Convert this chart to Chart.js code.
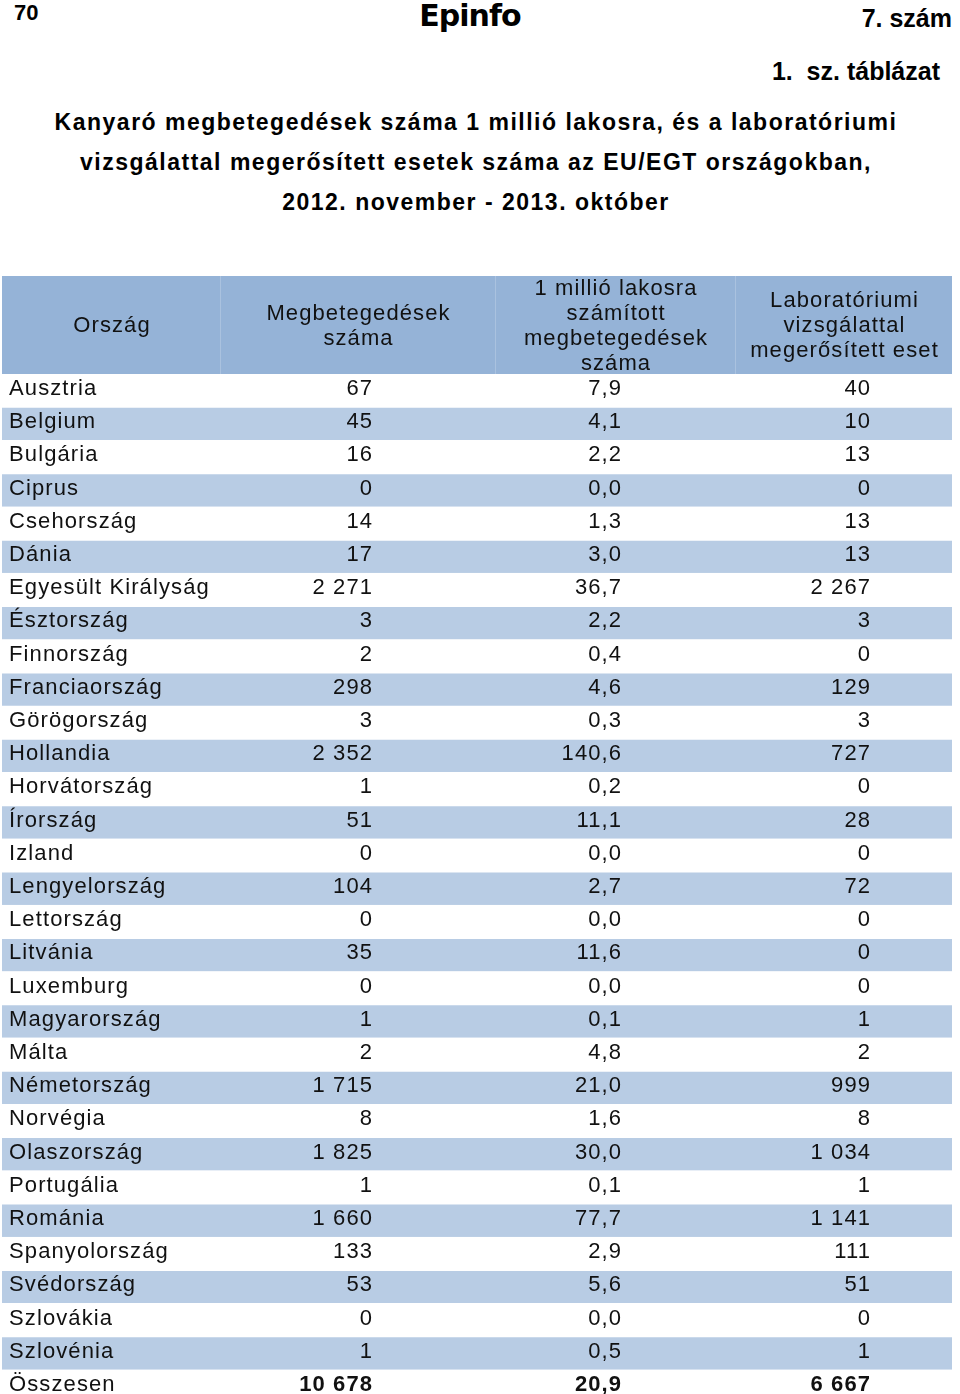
<!DOCTYPE html>
<html>
<head>
<meta charset="utf-8">
<script src="https://cdn.jsdelivr.net/npm/chart.js@4.4.1/dist/chart.umd.min.js"></script>
<style>
    html, body { margin: 0; padding: 0; background: #fff; overflow: hidden; }
    body { width: 960px; height: 1394px; position: relative; font-family: "Liberation Sans", Arial, sans-serif; color: #000; }
    .abs { position: absolute; white-space: nowrap; }
    #page-no { left: 14px; top: 0px; font-weight: bold; font-size: 22px; font-family: "Liberation Sans Narrow", "Liberation Sans", Arial, sans-serif; }
    #logo { left: 0; width: 940px; text-align: center; top: -2px; font-family: "DejaVu Sans", sans-serif; font-weight: bold; font-size: 30px; letter-spacing: -1px; }
    #issue { right: 8px; top: 4px; font-weight: bold; font-size: 25px; font-family: "Liberation Sans Narrow", "Liberation Sans", Arial, sans-serif; }
    #tbl-no { right: 20px; top: 57px; font-weight: bold; font-size: 25px; font-family: "Liberation Sans Narrow", "Liberation Sans", Arial, sans-serif; }
    #title { left: 0; width: 952px; top: 102px; text-align: center; font-weight: bold; font-size: 23px; line-height: 40px; letter-spacing: 1.5px; }
    #chart-wrap { position: absolute; left: 0; top: 276px; width: 960px; height: 1127px; }
</style>
</head>
<body>
<div id="page-no" class="abs">70</div>
<div id="logo" class="abs">Epinfo</div>
<div id="issue" class="abs">7. szám</div>
<div id="tbl-no" class="abs">1.&nbsp; sz. táblázat</div>
<div id="title" class="abs">Kanyaró megbetegedések száma 1 millió lakosra, és a laboratóriumi<br>vizsgálattal megerősített esetek száma az EU/EGT országokban,<br>2012. november - 2013. október</div>
<div id="chart-wrap"><canvas id="myChart"></canvas></div>

<script>
// Table data
const countries = [
    'Ausztria', 'Belgium', 'Bulgária', 'Ciprus', 'Csehország', 'Dánia',
    'Egyesült Királyság', 'Észtország', 'Finnország', 'Franciaország',
    'Görögország', 'Hollandia', 'Horvátország', 'Írország', 'Izland',
    'Lengyelország', 'Lettország', 'Litvánia', 'Luxemburg', 'Magyarország',
    'Málta', 'Németország', 'Norvégia', 'Olaszország', 'Portugália',
    'Románia', 'Spanyolország', 'Svédország', 'Szlovákia', 'Szlovénia'
];
const cases = [67, 45, 16, 0, 14, 17, 2271, 3, 2, 298, 3, 2352, 1, 51, 0, 104, 0, 35, 0, 1, 2, 1715, 8, 1825, 1, 1660, 133, 53, 0, 1];
const ratePerMillion = [7.9, 4.1, 2.2, 0.0, 1.3, 3.0, 36.7, 2.2, 0.4, 4.6, 0.3, 140.6, 0.2, 11.1, 0.0, 2.7, 0.0, 11.6, 0.0, 0.1, 4.8, 21.0, 1.6, 30.0, 0.1, 77.7, 2.9, 5.6, 0.0, 0.5];
const labConfirmed = [40, 10, 13, 0, 13, 13, 2267, 3, 0, 129, 3, 727, 0, 28, 0, 72, 0, 0, 0, 1, 2, 999, 8, 1034, 1, 1141, 111, 51, 0, 1];
const totalLabel = 'Összesen';
const totalCases = 10678;
const totalRate = 20.9;
const totalLab = 6667;
const headers = [
    ['Ország'],
    ['Megbetegedések', 'száma'],
    ['1 millió lakosra', 'számított', 'megbetegedések', 'száma'],
    ['Laboratóriumi', 'vizsgálattal', 'megerősített eset']
];

// layout (fractions of the x scale)
const colEdges = [0, 0.2295, 0.519, 0.7716, 1];
const nameAnchor = 0.0074;
const numAnchors = [0.3895, 0.6516, 0.9137];
const headerHeight = 98;
const stripeColor = '#b8cce4';
const headerColor = '#95b3d7';
const FONT = '"Liberation Sans", Arial, sans-serif';
const SPACING = 1.1;

function fmtInt(n) {
    return String(n).replace(/\B(?=(\d{3})+(?!\d))/g, ' ');
}
function fmtDec(n) {
    return n.toFixed(1).replace('.', ',');
}

const rowLabels = [...countries, totalLabel];
const rowCells = countries.map((c, i) => [fmtInt(cases[i]), fmtDec(ratePerMillion[i]), fmtInt(labConfirmed[i])]);
rowCells.push([fmtInt(totalCases), fmtDec(totalRate), fmtInt(totalLab)]);

const tablePlugin = {
    id: 'tableText',
    beforeDatasetsDraw(chart) {
        const ctx = chart.ctx;
        const x = chart.scales.x;
        const area = chart.chartArea;
        const top = area.top - headerHeight;
        ctx.save();
        ctx.fillStyle = headerColor;
        ctx.fillRect(x.getPixelForValue(0), top, x.getPixelForValue(1) - x.getPixelForValue(0), headerHeight);
        // faint cell seams
        ctx.strokeStyle = 'rgba(255,255,255,0.2)';
        ctx.lineWidth = 1;
        for (let c = 1; c < 4; c++) {
            const px = Math.round(x.getPixelForValue(colEdges[c])) + 0.5;
            ctx.beginPath();
            ctx.moveTo(px, top);
            ctx.lineTo(px, area.top);
            ctx.stroke();
        }
        ctx.fillStyle = '#111';
        ctx.font = '22px ' + FONT;
        ctx.letterSpacing = SPACING + 'px';
        ctx.textAlign = 'center';
        ctx.textBaseline = 'alphabetic';
        const midY = top + headerHeight / 2;
        headers.forEach((lines, c) => {
            const cx = (x.getPixelForValue(colEdges[c]) + x.getPixelForValue(colEdges[c + 1])) / 2;
            lines.forEach((ln, k) => {
                ctx.fillText(ln, cx + 1, midY + 7 + (k - (lines.length - 1) / 2) * 25);
            });
        });
        ctx.restore();
    },
    afterDatasetsDraw(chart) {
        const ctx = chart.ctx;
        const x = chart.scales.x;
        const y = chart.scales.y;
        ctx.save();
        ctx.fillStyle = '#111';
        ctx.textBaseline = 'alphabetic';
        ctx.letterSpacing = SPACING + 'px';
        rowLabels.forEach((label, i) => {
            const py = y.getPixelForValue(i) + 4.5;
            const bold = i === rowLabels.length - 1;
            ctx.font = '22px ' + FONT;
            ctx.textAlign = 'left';
            ctx.fillText(label, x.getPixelForValue(nameAnchor), py);
            ctx.font = (bold ? 'bold ' : '') + '22px ' + FONT;
            ctx.textAlign = 'right';
            rowCells[i].forEach((txt, c) => {
                ctx.fillText(txt, x.getPixelForValue(numAnchors[c]) + SPACING, py);
            });
        });
        ctx.restore();
    }
};

const ctx = document.getElementById('myChart').getContext('2d');
const chart = new Chart(ctx, {
    type: 'bar',
    data: {
        labels: rowLabels,
        datasets: [{
            data: rowLabels.map(() => [0, 1]),
            backgroundColor: rowLabels.map((_, i) => (i % 2 === 1 ? stripeColor : '#ffffff')),
            borderColor: '#ffffff',
            borderWidth: { top: 1, bottom: 0, left: 0, right: 0 },
            borderSkipped: false,
            barPercentage: 1,
            categoryPercentage: 1
        }]
    },
    options: {
        indexAxis: 'y',
        responsive: true,
        maintainAspectRatio: false,
        animation: false,
        layout: { padding: { top: headerHeight, left: 2, right: 8, bottom: 0 } },
        scales: {
            x: { type: 'linear', min: 0, max: 1, display: false },
            y: { type: 'category', display: false, offset: true }
        },
        plugins: {
            legend: { display: false },
            tooltip: { enabled: false }
        }
    },
    plugins: [tablePlugin]
});
</script>
</body>
</html>
